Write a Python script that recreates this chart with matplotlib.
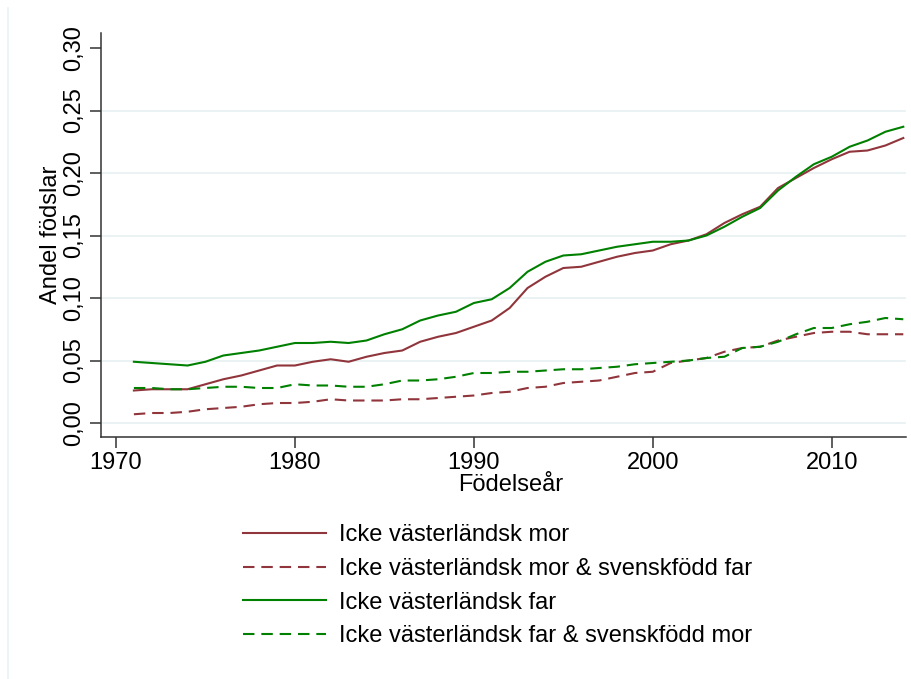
import numpy as np
import matplotlib
matplotlib.use("Agg")
from matplotlib import pyplot as plt
from matplotlib.lines import Line2D

plt.rcParams['font.family'] = ['Liberation Sans', 'DejaVu Sans']

years = list(range(1971, 2015))

# Icke västerländsk mor
mor = [0.026, 0.027, 0.027, 0.027, 0.031, 0.035, 0.038, 0.042, 0.046, 0.046,
       0.049, 0.051, 0.049, 0.053, 0.056, 0.058, 0.065, 0.069, 0.072, 0.077,
       0.082, 0.092, 0.108, 0.117, 0.124, 0.125, 0.129, 0.133, 0.136, 0.138,
       0.143, 0.146, 0.151, 0.160, 0.167, 0.173, 0.188, 0.196, 0.204, 0.211,
       0.217, 0.218, 0.222, 0.228]
# Icke västerländsk mor & svenskfödd far
mor_sv = [0.007, 0.008, 0.008, 0.009, 0.011, 0.012, 0.013, 0.015, 0.016, 0.016,
          0.017, 0.019, 0.018, 0.018, 0.018, 0.019, 0.019, 0.020, 0.021, 0.022,
          0.024, 0.025, 0.028, 0.029, 0.032, 0.033, 0.034, 0.037, 0.040, 0.041,
          0.048, 0.050, 0.052, 0.057, 0.060, 0.061, 0.066, 0.069, 0.072, 0.073,
          0.073, 0.071, 0.071, 0.071]
# Icke västerländsk far
far = [0.049, 0.048, 0.047, 0.046, 0.049, 0.054, 0.056, 0.058, 0.061, 0.064,
       0.064, 0.065, 0.064, 0.066, 0.071, 0.075, 0.082, 0.086, 0.089, 0.096,
       0.099, 0.108, 0.121, 0.129, 0.134, 0.135, 0.138, 0.141, 0.143, 0.145,
       0.145, 0.146, 0.150, 0.157, 0.165, 0.172, 0.186, 0.197, 0.207, 0.213,
       0.221, 0.226, 0.233, 0.237]
# Icke västerländsk far & svenskfödd mor
far_sv = [0.028, 0.028, 0.027, 0.027, 0.028, 0.029, 0.029, 0.028, 0.028, 0.031,
          0.030, 0.030, 0.029, 0.029, 0.031, 0.034, 0.034, 0.035, 0.037, 0.040,
          0.040, 0.041, 0.041, 0.042, 0.043, 0.043, 0.044, 0.045, 0.047, 0.048,
          0.049, 0.050, 0.052, 0.053, 0.060, 0.061, 0.065, 0.071, 0.076, 0.076,
          0.079, 0.081, 0.084, 0.083]

labels = ['Icke västerländsk mor',
          'Icke västerländsk mor & svenskfödd far',
          'Icke västerländsk far',
          'Icke västerländsk far & svenskfödd mor']

red = '#90353B'
green = '#008000'
gridc = '#EAF2F3'

fig = plt.figure(figsize=(9.12, 6.79), dpi=100)
ax = fig.add_axes([0.1107, 0.3564, 0.8827, 0.595])

ax.plot(years, mor, color=red, lw=1.5, label=labels[0])
ax.plot(years, mor_sv, color=red, lw=1.5, dashes=(5.5, 3.3), label=labels[1])
ax.plot(years, far, color=green, lw=1.5, label=labels[2])
ax.plot(years, far_sv, color=green, lw=1.5, dashes=(5.5, 3.3), label=labels[3])

ax.set_xlim(1969.16, 2014.15)
ax.set_ylim(-0.0112, 0.312)
ax.set_xticks([1970, 1980, 1990, 2000, 2010])
yt = [0.0, 0.05, 0.10, 0.15, 0.20, 0.25, 0.30]
ax.set_yticks(yt)
ax.set_yticklabels([('%.2f' % v).replace('.', ',') for v in yt], rotation=90, va='center')
for v in yt[:-1]:
    ax.axhline(v, color=gridc, lw=1.4, zorder=0)

for s in ['top', 'right']:
    ax.spines[s].set_visible(False)
for s in ['left', 'bottom']:
    ax.spines[s].set_linewidth(1.1)
    ax.spines[s].set_color('#333333')
ax.tick_params(axis='both', labelsize=17, length=8, width=1.1, color='#333333')
ax.tick_params(axis='x', pad=3)
ax.set_xlabel('Födelseår', fontsize=17, labelpad=0, x=0.509)
ax.set_ylabel('Andel födslar', fontsize=17, labelpad=1)

fig.legend(loc='upper left', bbox_to_anchor=(243 / 912, 1 - 524 / 679),
           frameon=False, fontsize=17, handlelength=3.5, handletextpad=0.55,
           labelspacing=0.5, borderpad=0, borderaxespad=0)

# faint outer border on the left, as in the source image
fig.add_artist(Line2D([8.5 / 912, 8.5 / 912], [0, 1 - 8 / 679],
                      transform=fig.transFigure, color=gridc, lw=1.2))

fig.savefig('out.png', dpi=100)
